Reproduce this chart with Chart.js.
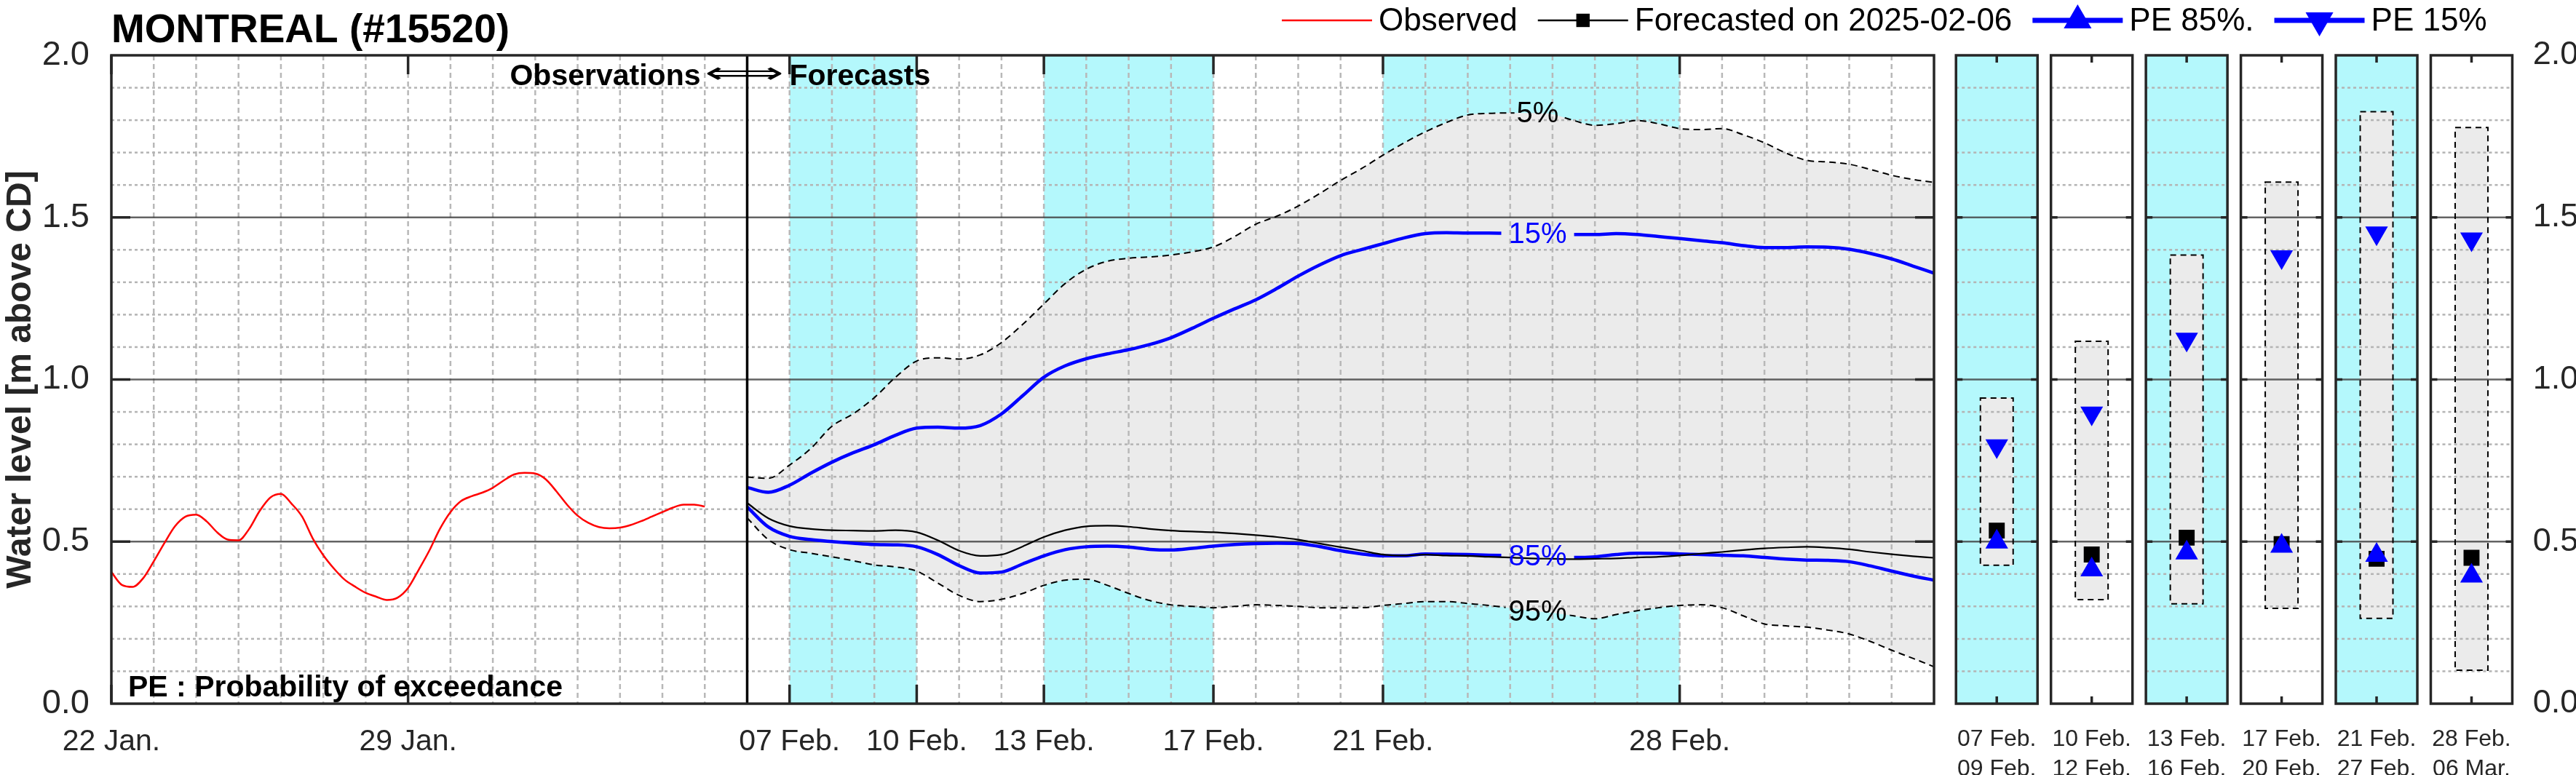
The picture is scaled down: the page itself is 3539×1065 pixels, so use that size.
<!DOCTYPE html>
<html>
<head>
<meta charset="utf-8">
<script src="https://cdn.jsdelivr.net/npm/chart.js@4.4.1/dist/chart.umd.min.js"></script>
<style>
  html, body { margin: 0; padding: 0; background: #fff; }
  #wrap { position: relative; width: 3539px; height: 1065px; overflow: hidden; }
  canvas { position: absolute; top: 0; }
  #main { left: 0; }
  #panels { left: 2660px; }
</style>
</head>
<body>
<div id="wrap">
  <canvas id="main" width="3539" height="1065"></canvas>
  <canvas id="panels" width="879" height="1065"></canvas>
</div>
<script>
// Water level outlook, Montreal station #15520.
// Main panel x axis is in days since 22 Jan. 2025 00:00.

const FONT = '"Liberation Sans", Arial, Helvetica, sans-serif'
const INK = '#262626'
const CYAN = 'rgb(180,248,252)'
const BAND = '#ebebeb'
const BLUE = '#0000ff'
const RED = '#ff0000'

const TICK_DAYS = [0, 7, 16, 19, 22, 26, 30, 37]
const TICK_LABELS = ['22 Jan.', '29 Jan.', '07 Feb.', '10 Feb.', '13 Feb.', '17 Feb.', '21 Feb.', '28 Feb.']
const X_MAX = 43          // 06 Mar.
const FORECAST_DAY = 15   // 06 Feb. 00:00, issue of the forecast
const SHADED = [[16, 19], [22, 26], [30, 37]]

// observed level, every 6 h from 22 Jan.
const OBS_START = 0
const OBS_STEP = 0.25
const OBSERVED = [
  0.406, 0.366, 0.360, 0.387, 0.439, 0.495, 0.547, 0.577, 0.583, 0.562,
  0.528, 0.506, 0.504, 0.539, 0.595, 0.636, 0.647, 0.617, 0.577, 0.510,
  0.458, 0.417, 0.383, 0.361, 0.342, 0.330, 0.320, 0.327, 0.357, 0.413,
  0.472, 0.539, 0.591, 0.625, 0.640, 0.651, 0.666, 0.688, 0.707, 0.712,
  0.710, 0.692, 0.655, 0.614, 0.580, 0.558, 0.545, 0.541, 0.543, 0.551,
  0.563, 0.577, 0.591, 0.605, 0.614, 0.614, 0.608,
]

// ensemble forecast, every 12 h from 06 Feb.
const FC_START = 15
const FC_STEP = 0.5
const P05 = [
  0.699, 0.695, 0.736, 0.787, 0.856, 0.894, 0.944, 1.007, 1.057, 1.067,
  1.063, 1.076, 1.114, 1.170, 1.233, 1.296, 1.340, 1.365, 1.374, 1.378,
  1.384, 1.394, 1.409, 1.441, 1.479, 1.504, 1.535, 1.573, 1.614, 1.651,
  1.692, 1.730, 1.764, 1.793, 1.816, 1.821, 1.822, 1.822, 1.818, 1.799,
  1.784, 1.789, 1.799, 1.789, 1.774, 1.771, 1.774, 1.755, 1.730, 1.699,
  1.676, 1.671, 1.664, 1.648, 1.630, 1.617, 1.608,
]
const P15 = [
  0.667, 0.652, 0.674, 0.711, 0.745, 0.774, 0.799, 0.828, 0.850, 0.853,
  0.850, 0.858, 0.894, 0.950, 1.007, 1.042, 1.064, 1.079, 1.092, 1.108,
  1.129, 1.158, 1.189, 1.218, 1.246, 1.281, 1.319, 1.353, 1.382, 1.401,
  1.419, 1.437, 1.450, 1.453, 1.452, 1.452, 1.451, 1.450, 1.448, 1.447,
  1.447, 1.450, 1.447, 1.441, 1.435, 1.428, 1.422, 1.413, 1.407, 1.407,
  1.409, 1.408, 1.402, 1.389, 1.372, 1.350, 1.328,
]
const FORECAST = [
  0.619, 0.572, 0.548, 0.539, 0.535, 0.534, 0.533, 0.535, 0.529, 0.504,
  0.472, 0.456, 0.460, 0.485, 0.514, 0.535, 0.547, 0.549, 0.546, 0.539,
  0.534, 0.531, 0.529, 0.525, 0.520, 0.514, 0.506, 0.494, 0.483, 0.472,
  0.460, 0.457, 0.460, 0.457, 0.456, 0.453, 0.451, 0.448, 0.447, 0.446,
  0.447, 0.448, 0.451, 0.453, 0.457, 0.463, 0.468, 0.474, 0.479, 0.482,
  0.484, 0.481, 0.476, 0.468, 0.461, 0.455, 0.450,
]
const P85 = [
  0.607, 0.545, 0.516, 0.506, 0.500, 0.495, 0.491, 0.490, 0.484, 0.460,
  0.426, 0.403, 0.406, 0.431, 0.456, 0.475, 0.484, 0.486, 0.483, 0.476,
  0.474, 0.479, 0.486, 0.491, 0.494, 0.495, 0.494, 0.485, 0.472, 0.462,
  0.456, 0.456, 0.462, 0.461, 0.460, 0.458, 0.457, 0.456, 0.454, 0.451,
  0.453, 0.460, 0.464, 0.464, 0.462, 0.460, 0.458, 0.456, 0.451, 0.446,
  0.443, 0.442, 0.438, 0.425, 0.409, 0.394, 0.381,
]
const P95 = [
  0.573, 0.506, 0.475, 0.464, 0.453, 0.441, 0.428, 0.422, 0.409, 0.372,
  0.334, 0.315, 0.322, 0.340, 0.365, 0.381, 0.384, 0.365, 0.340, 0.318,
  0.305, 0.300, 0.296, 0.300, 0.305, 0.303, 0.300, 0.296, 0.296, 0.296,
  0.303, 0.309, 0.315, 0.315, 0.309, 0.303, 0.295, 0.286, 0.280, 0.271,
  0.262, 0.275, 0.287, 0.296, 0.303, 0.305, 0.296, 0.271, 0.246, 0.240,
  0.236, 0.227, 0.215, 0.192, 0.165, 0.140, 0.114,
]

// summary per period (right hand panels)
const PERIODS = [
  ['07 Feb.', '09 Feb.'], ['10 Feb.', '12 Feb.'], ['13 Feb.', '16 Feb.'],
  ['17 Feb.', '20 Feb.'], ['21 Feb.', '27 Feb.'], ['28 Feb.', '06 Mar.'],
]
const PERIOD_P05 = [0.943, 1.118, 1.384, 1.609, 1.826, 1.777]
const PERIOD_P95 = [0.427, 0.321, 0.308, 0.294, 0.263, 0.103]
const PERIOD_P15 = [0.795, 0.896, 1.124, 1.378, 1.452, 1.433]
const PERIOD_FC = [0.534, 0.460, 0.512, 0.492, 0.447, 0.450]
const PERIOD_P85 = [0.499, 0.413, 0.465, 0.486, 0.458, 0.394]
const SHADED_PANELS = [0, 2, 4]

// where the percentile labels sit on the curves
const LABEL_DAY = 33.65
const PCT_LABELS = [
  { ds: 0, text: '5%', color: '#000', pad: 3 },
  { ds: 1, text: '95%', color: '#000', pad: 4 },
  { ds: 3, text: '85%', color: BLUE, pad: 10 },
  { ds: 4, text: '15%', color: BLUE, pad: 10 },
]

const LEGEND = [
  { text: 'Observed', color: RED, width: 2.5 },
  { text: 'Forecasted on 2025-02-06', color: '#000', width: 2.5, marker: { pointStyle: 'rect', radius: 13 } },
  { text: 'PE 85%.', color: BLUE, width: 7, marker: { pointStyle: 'triangle', radius: 22 } },
  { text: 'PE 15%', color: BLUE, width: 7, marker: { pointStyle: 'triangle', rotation: 180, radius: 22 } },
]

Chart.defaults.font.family = FONT
Chart.defaults.color = INK

const toPoints = (start, step, values) => values.map((y, i) => ({ x: start + i * step, y }))

const line = (d, color, width, dash) => ({
  type: 'line',
  data: d,
  borderColor: color,
  borderWidth: width,
  borderDash: dash || [],
  pointRadius: 0,
  fill: false,
  cubicInterpolationMode: 'monotone',
})

function hGrid(ctx, y, x0, x1) {
  ctx.save()
  ctx.lineWidth = 2.5
  for (let i = 1; i < 20; i++) {
    const py = y.getPixelForValue(i / 10)
    const major = i % 5 === 0
    ctx.setLineDash(major ? [] : [4, 4])
    ctx.strokeStyle = major ? 'rgba(60,60,60,0.8)' : '#b4b4b4'
    ctx.beginPath()
    ctx.moveTo(x0, py)
    ctx.lineTo(x1, py)
    ctx.stroke()
  }
  ctx.restore()
}

function pctBox(chart, lab) {
  const meta = chart.getDatasetMeta(lab.ds)
  const pt = meta.data[Math.round((LABEL_DAY - FC_START) / FC_STEP)]
  const ctx = chart.ctx
  ctx.save()
  ctx.font = `40px ${FONT}`
  const w = ctx.measureText(lab.text).width
  ctx.restore()
  return { cx: chart.scales.x.getPixelForValue(LABEL_DAY), cy: pt.y, w }
}

function drawLegend(ctx) {
  let x = 1761
  const y = 28
  ctx.save()
  ctx.font = `44px ${FONT}`
  ctx.textBaseline = 'middle'
  ctx.textAlign = 'left'
  for (const item of LEGEND) {
    ctx.strokeStyle = item.color
    ctx.lineWidth = item.width
    ctx.beginPath()
    ctx.moveTo(x, y)
    ctx.lineTo(x + 124, y)
    ctx.stroke()
    if (item.marker) {
      ctx.fillStyle = item.color
      Chart.helpers.drawPoint(ctx, { borderWidth: 0, rotation: 0, ...item.marker }, x + 62, y)
    }
    ctx.fillStyle = '#000'
    ctx.fillText(item.text, x + 133, y + 2)
    x += 133 + ctx.measureText(item.text).width + 28
  }
  ctx.restore()
}

const mainDeco = {
  id: 'mainDeco',
  beforeDraw(chart) {
    const { ctx, width, height, chartArea: a, scales: { x } } = chart
    ctx.save()
    ctx.fillStyle = '#fff'
    ctx.fillRect(0, 0, width, height)
    ctx.fillStyle = CYAN
    for (const [d0, d1] of SHADED) {
      const x0 = x.getPixelForValue(d0)
      const x1 = x.getPixelForValue(d1)
      ctx.fillRect(x0, a.top, x1 - x0, a.bottom - a.top)
    }
    ctx.restore()
  },
  beforeDatasetsDraw(chart) {
    const { ctx, chartArea: a, scales: { x, y } } = chart
    ctx.save()
    ctx.strokeStyle = '#b8b8b8'
    ctx.lineWidth = 2.5
    ctx.setLineDash([7, 5])
    for (let d = 1; d < X_MAX; d++) {
      const px = x.getPixelForValue(d)
      ctx.beginPath()
      ctx.moveTo(px, a.top)
      ctx.lineTo(px, a.bottom)
      ctx.stroke()
    }
    ctx.restore()
    hGrid(ctx, y, a.left, a.right)
  },
  beforeDatasetDraw(chart, args) {
    const lab = PCT_LABELS.find(l => l.ds === args.index)
    if (!lab) return
    const { cx, cy, w } = pctBox(chart, lab)
    const ctx = chart.ctx
    ctx.save()
    ctx.beginPath()
    ctx.rect(0, 0, chart.width, chart.height)
    ctx.rect(cx - w / 2 - lab.pad, cy - 24, w + 2 * lab.pad, 48)
    ctx.clip('evenodd')
  },
  afterDatasetDraw(chart, args) {
    if (PCT_LABELS.find(l => l.ds === args.index)) chart.ctx.restore()
  },
  afterDatasetsDraw(chart) {
    const { ctx, chartArea: a, scales: { x, y } } = chart
    ctx.save()
    // observation / forecast divider
    const dx = x.getPixelForValue(FORECAST_DAY)
    ctx.strokeStyle = '#000'
    ctx.lineWidth = 3.5
    ctx.beginPath()
    ctx.moveTo(dx, a.top)
    ctx.lineTo(dx, a.bottom)
    ctx.stroke()
    // ticks and box
    ctx.strokeStyle = INK
    ctx.lineWidth = 3.5
    ctx.beginPath()
    for (const d of TICK_DAYS) {
      const px = x.getPixelForValue(d)
      ctx.moveTo(px, a.bottom); ctx.lineTo(px, a.bottom - 26)
      ctx.moveTo(px, a.top); ctx.lineTo(px, a.top + 26)
    }
    for (const v of [0.5, 1, 1.5]) {
      const py = y.getPixelForValue(v)
      ctx.moveTo(a.left, py); ctx.lineTo(a.left + 26, py)
      ctx.moveTo(a.right, py); ctx.lineTo(a.right - 26, py)
    }
    ctx.stroke()
    ctx.strokeRect(a.left, a.top, a.right - a.left, a.bottom - a.top)

    // percentile labels
    ctx.font = `40px ${FONT}`
    ctx.textAlign = 'center'
    ctx.textBaseline = 'middle'
    for (const lab of PCT_LABELS) {
      const { cx, cy } = pctBox(chart, lab)
      ctx.fillStyle = lab.color
      ctx.fillText(lab.text, cx, cy + 2)
    }

    // annotations
    ctx.fillStyle = '#000'
    ctx.textBaseline = 'alphabetic'
    ctx.font = `bold 41px ${FONT}`
    const ty = a.top + 41
    ctx.textAlign = 'right'
    ctx.fillText('Observations', dx - 64, ty)
    ctx.textAlign = 'left'
    ctx.fillText('Forecasts', dx + 58, ty)
    ctx.font = `41px "DejaVu Sans", ${FONT}`
    const aw = ctx.measureText('\u27FA').width
    ctx.save()
    ctx.translate(dx - 4, ty - 14)
    ctx.scale(109 / aw, 1)
    ctx.textAlign = 'center'
    ctx.textBaseline = 'middle'
    ctx.fillText('\u27FA', 0, 0)
    ctx.restore()

    ctx.font = `bold 41px ${FONT}`
    ctx.textAlign = 'left'
    ctx.fillText('PE : Probability of exceedance', a.left + 23, a.bottom - 10)

    ctx.font = `bold 55px ${FONT}`
    ctx.fillText('MONTREAL (#15520)', a.left, 58)
    ctx.restore()

    drawLegend(ctx)
  },
}

new Chart(document.getElementById('main'), {
  type: 'line',
  data: {
    datasets: [
      { ...line(toPoints(FC_START, FC_STEP, P05), '#000', 2, [9, 6]), label: '5%', fill: '+1', backgroundColor: BAND },
      { ...line(toPoints(FC_START, FC_STEP, P95), '#000', 2, [9, 6]), label: '95%' },
      { ...line(toPoints(FC_START, FC_STEP, FORECAST), '#000', 2.2), label: 'Forecasted on 2025-02-06' },
      { ...line(toPoints(FC_START, FC_STEP, P85), BLUE, 4.5), label: 'PE 85%' },
      { ...line(toPoints(FC_START, FC_STEP, P15), BLUE, 4.5), label: 'PE 15%' },
      { ...line(toPoints(OBS_START, OBS_STEP, OBSERVED), RED, 2.5), label: 'Observed' },
    ],
  },
  options: {
    responsive: false,
    devicePixelRatio: 1,
    animation: false,
    events: [],
    layout: { padding: { left: 0, right: 882, top: 76, bottom: 0 } },
    plugins: {
      legend: { display: false },
      tooltip: { enabled: false },
      filler: { propagate: false, drawTime: 'beforeDatasetsDraw' },
    },
    scales: {
      x: {
        type: 'linear',
        min: 0,
        max: X_MAX,
        afterFit: s => { s.height = 98 },
        afterBuildTicks: s => { s.ticks = TICK_DAYS.map(value => ({ value })) },
        ticks: {
          callback: (v, i) => TICK_LABELS[i],
          autoSkip: false,
          maxRotation: 0,
          font: { size: 41 },
          color: INK,
          padding: 20,
        },
        grid: { display: false },
        border: { display: false },
      },
      y: {
        min: 0,
        max: 2,
        afterFit: s => { s.width = 153 },
        ticks: {
          stepSize: 0.5,
          callback: v => v.toFixed(1),
          font: { size: 47 },
          color: INK,
          padding: 22,
        },
        grid: { display: false },
        border: { display: false },
        title: {
          display: true,
          text: 'Water level [m above CD]',
          font: { size: 48, weight: 'bold' },
          color: INK,
          padding: { top: 0, bottom: 0 },
        },
      },
    },
  },
  plugins: [mainDeco],
})

const PANEL_HALF = 56

const panelDeco = {
  id: 'panelDeco',
  beforeDatasetsDraw(chart) {
    const { ctx, chartArea: a, scales: { x } } = chart
    ctx.save()
    ctx.fillStyle = CYAN
    for (const i of SHADED_PANELS) {
      const cx = x.getPixelForValue(i)
      ctx.fillRect(cx - PANEL_HALF, a.top, 2 * PANEL_HALF, a.bottom - a.top)
    }
    ctx.restore()
  },
  afterDatasetDraw(chart, args) {
    if (args.index !== 0) return
    const { ctx, scales: { x, y } } = chart
    PERIODS.forEach((_, i) => {
      const cx = x.getPixelForValue(i)
      hGrid(ctx, y, cx - PANEL_HALF, cx + PANEL_HALF)
    })
    // dashed outline of the 5-95 % boxes
    ctx.save()
    ctx.strokeStyle = '#000'
    ctx.lineWidth = 2
    ctx.setLineDash([8, 6])
    for (const el of args.meta.data) {
      const { x: bx, y: by, base, width } = el.getProps(['x', 'y', 'base', 'width'], true)
      ctx.strokeRect(bx - width / 2, Math.min(by, base), width, Math.abs(base - by))
    }
    ctx.restore()
  },
  afterDatasetsDraw(chart) {
    const { ctx, chartArea: a, scales: { x, y } } = chart
    ctx.save()
    ctx.strokeStyle = INK
    ctx.lineWidth = 3.5
    PERIODS.forEach((_, i) => {
      const cx = x.getPixelForValue(i)
      const l = cx - PANEL_HALF
      const r = cx + PANEL_HALF
      ctx.beginPath()
      ctx.moveTo(cx, a.top); ctx.lineTo(cx, a.top + 10)
      ctx.moveTo(cx, a.bottom); ctx.lineTo(cx, a.bottom - 10)
      for (const v of [0.5, 1, 1.5]) {
        const py = y.getPixelForValue(v)
        ctx.moveTo(l, py); ctx.lineTo(l + 9, py)
        ctx.moveTo(r, py); ctx.lineTo(r - 9, py)
      }
      ctx.stroke()
      ctx.strokeRect(l, a.top, r - l, a.bottom - a.top)
    })
    ctx.restore()
  },
}

new Chart(document.getElementById('panels'), {
  type: 'bar',
  data: {
    labels: PERIODS,
    datasets: [
      {
        type: 'bar',
        label: '5-95 %',
        data: PERIOD_P95.map((lo, i) => [lo, PERIOD_P05[i]]),
        backgroundColor: BAND,
        borderWidth: 0,
        barThickness: 45,
        order: 10,
      },
      {
        type: 'line', label: 'Forecasted on 2025-02-06', data: PERIOD_FC, showLine: false,
        pointStyle: 'rect', pointRadius: 15.5, pointBackgroundColor: '#000', pointBorderWidth: 0, order: 3,
      },
      {
        type: 'line', label: 'PE 85%.', data: PERIOD_P85, showLine: false,
        pointStyle: 'triangle', pointRadius: 18, pointBackgroundColor: BLUE, pointBorderWidth: 0, order: 2,
      },
      {
        type: 'line', label: 'PE 15%', data: PERIOD_P15, showLine: false,
        pointStyle: 'triangle', pointRotation: 180, pointRadius: 18, pointBackgroundColor: BLUE, pointBorderWidth: 0, order: 1,
      },
    ],
  },
  options: {
    responsive: false,
    devicePixelRatio: 1,
    animation: false,
    events: [],
    layout: { padding: { left: 12.3, right: 0, top: 76, bottom: 0 } },
    plugins: { legend: { display: false }, tooltip: { enabled: false } },
    scales: {
      x: {
        type: 'category',
        offset: true,
        afterFit: s => { s.height = 98 },
        ticks: { font: { size: 32, lineHeight: 1.3 }, color: INK, padding: 20, maxRotation: 0, autoSkip: false },
        grid: { display: false },
        border: { display: false },
      },
      y: {
        position: 'right',
        min: 0,
        max: 2,
        afterFit: s => { s.width = 78.3 },
        ticks: { stepSize: 0.5, callback: v => v.toFixed(1), font: { size: 45 }, color: INK, padding: 11 },
        grid: { display: false },
        border: { display: false },
      },
    },
  },
  plugins: [panelDeco],
})
</script>
</body>
</html>
